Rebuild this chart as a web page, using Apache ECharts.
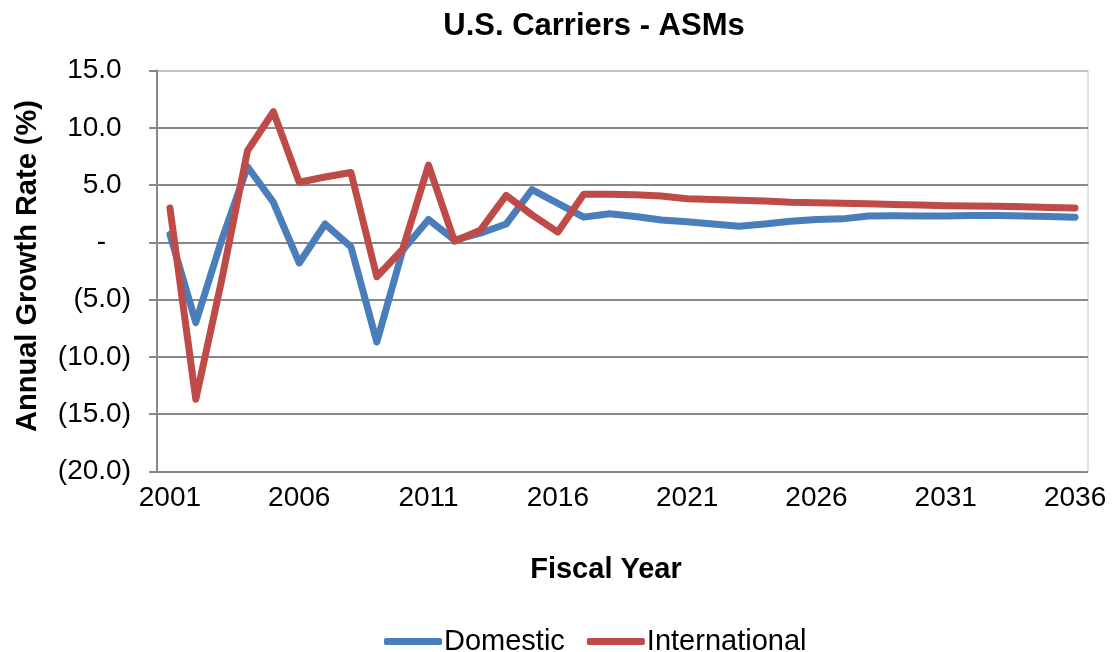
<!DOCTYPE html>
<html>
<head>
<meta charset="utf-8">
<script src="https://cdn.jsdelivr.net/npm/echarts@6/dist/echarts.min.js"></script>
<style>html,body{margin:0;padding:0;background:#fff}#c{width:1114px;height:652px}</style>
</head>
<body>
<div id="c"></div>
<script>
var years = [];
for (var y = 2001; y <= 2036; y++) years.push(String(y));
var domestic = [0.7, -7.0, 0.2, 6.6, 3.5, -1.8, 1.6, -0.4, -8.7, -0.7, 2.0, 0.2, 0.8, 1.6, 4.6, 3.4, 2.2, 2.5, 2.25, 1.95, 1.8, 1.6, 1.4, 1.6, 1.85, 2.0, 2.05, 2.3, 2.32, 2.3, 2.3, 2.35, 2.35, 2.3, 2.25, 2.2];
var international = [3.0, -13.7, -3.3, 8.0, 11.4, 5.25, 5.7, 6.1, -3.0, -0.6, 6.75, 0.1, 1.05, 4.1, 2.4, 0.9, 4.2, 4.2, 4.15, 4.05, 3.8, 3.75, 3.68, 3.6, 3.5, 3.45, 3.42, 3.38, 3.3, 3.25, 3.2, 3.17, 3.15, 3.1, 3.05, 3.0];

var FONT = '"Liberation Sans", Arial, sans-serif';
var chart = echarts.init(document.getElementById('c'), null, {renderer: 'canvas'});
chart.setOption({
  animation: false,
  backgroundColor: '#fff',
  grid: {left: 157, right: 26, top: 70.5, bottom: 180.5, show: true, borderColor: '#c4c4c4', borderWidth: 1, containLabel: false},
  graphic: [
    {type: 'text', x: 594, y: 26, style: {text: 'U.S. Carriers - ASMs', font: 'bold 31px ' + FONT, fill: '#000', textAlign: 'center', textVerticalAlign: 'middle'}},
    {type: 'text', x: 606, y: 570, style: {text: 'Fiscal Year', font: 'bold 29px ' + FONT, fill: '#000', textAlign: 'center', textVerticalAlign: 'middle'}},
    {type: 'text', x: 28, y: 266, rotation: Math.PI / 2, style: {text: 'Annual Growth Rate (%)', font: 'bold 29px ' + FONT, fill: '#000', textAlign: 'center', textVerticalAlign: 'middle'}}
  ],
  legend: {
    data: ['Domestic', 'International'],
    left: 379, top: 622,
    icon: 'roundRect', itemWidth: 58, itemHeight: 7, itemGap: 22,
    textStyle: {fontFamily: FONT, fontSize: 29, color: '#000', padding: [0, 0, 0, -3]}
  },
  xAxis: {
    type: 'category', data: years, boundaryGap: true,
    axisLine: {show: true, lineStyle: {color: '#888', width: 2}},
    axisTick: {show: false},
    axisLabel: {interval: 4, margin: 13, fontFamily: FONT, fontSize: 28, color: '#000'},
    splitLine: {show: false}
  },
  yAxis: {
    type: 'value', min: -20, max: 15, interval: 5,
    axisLine: {show: true, lineStyle: {color: '#888', width: 2}},
    axisTick: {show: true, inside: false, length: 8, lineStyle: {color: '#888', width: 2}},
    axisLabel: {margin: 26, fontFamily: FONT, fontSize: 28, color: '#000',
      rich: {p: {fontFamily: FONT, fontSize: 28, color: 'rgba(0,0,0,0)'}},
      formatter: function (v) {
        if (v === 0) return '-{p|0)}';
        if (v < 0) return '(' + Math.abs(v).toFixed(1) + ')';
        return v.toFixed(1) + '{p|)}';
      }},
    splitLine: {show: true, lineStyle: {color: ['#888', '#888', '#888', '#888', '#888', '#888', '#888', '#c4c4c4'], width: 2}}
  },
  series: [
    {name: 'Domestic', type: 'line', data: domestic, symbol: 'none', smooth: false,
      lineStyle: {color: '#4A7EBB', width: 7, cap: 'round', join: 'round'}, itemStyle: {color: '#4A7EBB'}},
    {name: 'International', type: 'line', data: international, symbol: 'none', smooth: false,
      lineStyle: {color: '#BE4B48', width: 7, cap: 'round', join: 'round'}, itemStyle: {color: '#BE4B48'}}
  ]
});
</script>
</body>
</html>
